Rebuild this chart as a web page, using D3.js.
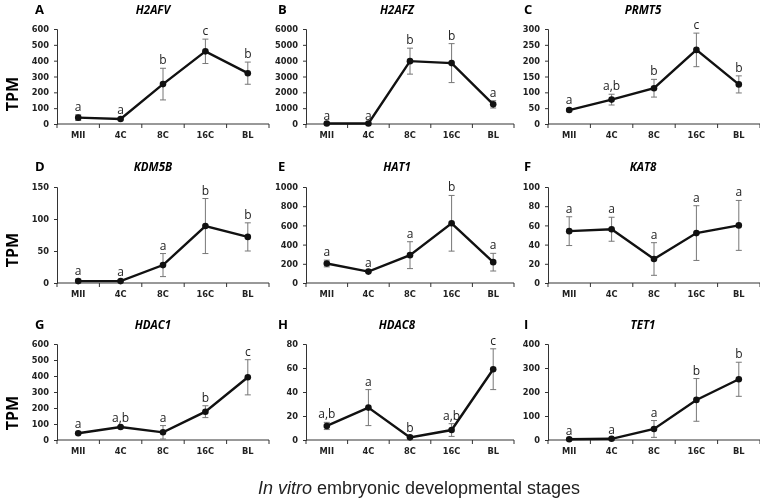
<!DOCTYPE html>
<html>
<head>
<meta charset="utf-8">
<script src="https://cdn.jsdelivr.net/npm/d3@7"></script>
<style>
  body { margin: 0; background: #fff; }
  svg { display: block; will-change: transform; }
  .tick text { font-family: "DejaVu Sans", sans-serif; font-weight: bold; fill: #222; }
</style>
</head>
<body>
<svg id="chart" width="760" height="498"></svg>
<script>
const stages = ["MII", "4C", "8C", "16C", "BL"]
const genes = ["H2AFV", "H2AFZ", "PRMT5", "KDM5B", "HAT1", "KAT8", "HDAC1", "HDAC8", "TET1"]
const panelLetters = ["A", "B", "C", "D", "E", "F", "G", "H", "I"]
const yMax = [600, 6000, 300, 150, 1000, 100, 600, 80, 400]
const yStep = [100, 1000, 50, 50, 200, 20, 100, 20, 100]

// mean TPM per stage
const meanTPM = [
  [40, 32, 252, 459, 321],
  [30, 30, 3970, 3846, 1240],
  [44, 77, 113, 234, 125],
  [3, 3, 28, 89, 72],
  [203, 119, 290, 622, 217],
  [54, 56, 25, 52, 60],
  [42, 81, 48, 177, 392],
  [11.7, 27, 2.2, 8.3, 59],
  [3, 5, 46, 167, 253]
]
// error bar half-length
const errTPM = [
  [18, 5, 100, 77, 70],
  [0, 0, 820, 1230, 230],
  [5, 17, 28, 53, 27],
  [3, 2, 18, 43, 22],
  [35, 10, 140, 290, 92],
  [15, 12.5, 17, 28.5, 26],
  [6, 6, 42, 37, 110],
  [3, 15, 1, 5.3, 17],
  [2, 2, 35, 89, 71]
]
const sigLetters = [
  ["a", "a", "b", "c", "b"],
  ["a", "a", "b", "b", "a"],
  ["a", "a,b", "b", "c", "b"],
  ["a", "a", "a", "b", "b"],
  ["a", "a", "a", "b", "a"],
  ["a", "a", "a", "a", "a"],
  ["a", "a,b", "a", "b", "c"],
  ["a,b", "a", "b", "a,b", "c"],
  ["a", "a", "a", "b", "b"]
]

const svg = d3.select("#chart")

// layout
const colLeft = [57, 306, 548]
const colWidth = [212, 208, 212]
const rowTop = [29, 187, 344]
const rowBottom = [124, 283, 440]
const letterX = [35, 278, 524]
const titleX = [153, 397, 643]
const titleY = [14, 171, 329]
const tpmY = [94, 250, 413]

genes.forEach((gene, i) => {
  let col = i % 3, row = Math.floor(i / 3)
  let x0 = colLeft[col], w = colWidth[col]
  let x = d3.scaleBand().domain(stages).range([x0, x0 + w])
  let y = d3.scaleLinear().domain([0, yMax[i]]).range([rowBottom[row], rowTop[row]])

  let g = svg.append("g")

  // y axis
  let ya = g.append("g").attr("transform", `translate(${x0},0)`)
    .call(d3.axisLeft(y).tickValues(d3.range(0, yMax[i] + 1, yStep[i]))
      .tickFormat(d3.format("d")).tickSize(3).tickPadding(5))
  ya.selectAll("text").style("font-size", "8.3px")
  ya.select(".domain").attr("stroke", "#333")
  ya.selectAll(".tick line").attr("stroke", "#333")

  // x axis, ticks at category boundaries
  let xa = g.append("g").attr("transform", `translate(0,${rowBottom[row]})`)
  xa.append("line").attr("x1", x0).attr("x2", x0 + w).attr("stroke", "#333")
  let bounds = stages.map(s => x(s)).concat([x0 + w])
  xa.selectAll(".xt").data(bounds).enter().append("line")
    .attr("x1", d => d).attr("x2", d => d).attr("y1", 0).attr("y2", 4).attr("stroke", "#333")
  xa.selectAll(".xl").data(stages).enter().append("text")
    .attr("x", d => x(d) + x.bandwidth() / 2).attr("y", 14)
    .attr("text-anchor", "middle")
    .style("font-family", "DejaVu Sans, sans-serif").style("font-weight", "bold")
    .style("font-size", "8.3px").style("fill", "#222")
    .text(d => d)

  let cx = d => x(d) + x.bandwidth() / 2
  let pts = stages.map((s, j) => ({ s: s, m: meanTPM[i][j], e: errTPM[i][j], l: sigLetters[i][j] }))

  // error bars
  let eb = g.selectAll(".err").data(pts).enter().append("g").attr("stroke", "#777").attr("stroke-width", 1)
  eb.append("line").attr("x1", d => cx(d.s)).attr("x2", d => cx(d.s))
    .attr("y1", d => y(d.m - d.e)).attr("y2", d => y(d.m + d.e))
  eb.append("line").attr("x1", d => cx(d.s) - 3).attr("x2", d => cx(d.s) + 3)
    .attr("y1", d => y(d.m + d.e)).attr("y2", d => y(d.m + d.e))
  eb.append("line").attr("x1", d => cx(d.s) - 3).attr("x2", d => cx(d.s) + 3)
    .attr("y1", d => y(d.m - d.e)).attr("y2", d => y(d.m - d.e))

  // mean line
  g.append("path").datum(pts)
    .attr("d", d3.line().x(d => cx(d.s)).y(d => y(d.m)))
    .attr("fill", "none").attr("stroke", "#111").attr("stroke-width", 2.4)
  g.selectAll(".pt").data(pts).enter().append("circle")
    .attr("cx", d => cx(d.s)).attr("cy", d => y(d.m)).attr("r", 3.3).attr("fill", "#111")

  // significance letters
  g.selectAll(".sig").data(pts).enter().append("text")
    .attr("x", d => cx(d.s)).attr("y", d => y(d.m + d.e) - 4)
    .attr("text-anchor", "middle")
    .style("font-family", "Open Sans, sans-serif").style("font-size", "12px").style("fill", "#222")
    .text(d => d.l)

  // panel letter and gene title
  g.append("text").attr("x", letterX[col]).attr("y", titleY[row])
    .style("font-family", "Open Sans, sans-serif").style("font-weight", "bold").style("font-size", "13px")
    .text(panelLetters[i])
  g.append("text").attr("x", titleX[col]).attr("y", titleY[row]).attr("text-anchor", "middle")
    .style("font-family", "Open Sans, sans-serif").style("font-weight", "bold").style("font-style", "italic")
    .style("font-size", "11.5px")
    .text(gene)
})

// TPM labels
tpmY.forEach(c => {
  svg.append("text")
    .attr("transform", `translate(18,${c}) rotate(-90)`)
    .attr("text-anchor", "middle")
    .style("font-family", "Open Sans, sans-serif").style("font-weight", "bold").style("font-size", "16px")
    .text("TPM")
})

let xt = svg.append("text").attr("x", 419).attr("y", 494).attr("text-anchor", "middle")
  .style("font-family", "Liberation Sans, Arial, sans-serif").style("font-size", "18px").style("fill", "#222")
xt.append("tspan").style("font-style", "italic").text("In vitro")
xt.append("tspan").text(" embryonic developmental stages")
</script>
</body>
</html>
